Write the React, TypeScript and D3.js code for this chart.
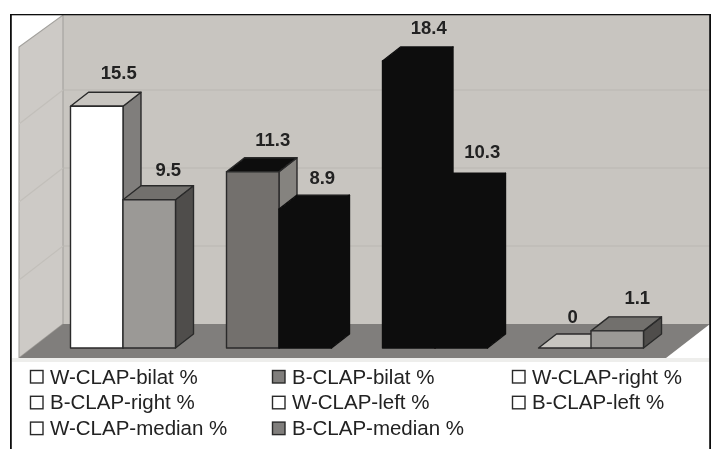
import * as d3 from 'd3';

const categories = ['bilat', 'right', 'left', 'median'];
const series = ['W-CLAP', 'B-CLAP'];
const wValues = [15.5, 11.3, 18.4, 0];
const bValues = [9.5, 8.9, 10.3, 1.1];
const yTicks = [0, 5, 10, 15, 20];

const legendLabels = [
  'W-CLAP-bilat %', 'B-CLAP-bilat %', 'W-CLAP-right %',
  'B-CLAP-right %', 'W-CLAP-left %', 'B-CLAP-left %',
  'W-CLAP-median %', 'B-CLAP-median %',
];
const legendFills = ['#fff', '#807e7b', '#fff', '#fff', '#fff', '#fff', '#fff', '#807e7b'];

// front, top, side colours for each bar
const wFaces = [
  ['#ffffff', '#c8c5c0', '#807e7b'],
  ['#73706d', '#111111', '#85837f'],
  ['#111111', '#111111', '#111111'],
  ['#ffffff', '#c8c5c0', '#807e7b'],
];
const bFaces = [
  ['#9b9996', '#72706d', '#4f4e4c'],
  ['#111111', '#111111', '#111111'],
  ['#111111', '#111111', '#111111'],
  ['#9b9996', '#72706d', '#4f4e4c'],
];
// small hand adjustments of the value labels [dx, dy]
const wNudge = [[2, 0], [0, 1], [0, 0], [-12, 2]];
const bNudge = [[-1, 3], [-3, 2], [1, -2], [0, 0]];

const width = 720;
const height = 449;
const depthX = 18;
const depthY = 14;
const wallX = 44;
const wallY = 34;
const baseY = 348;
const legendX = [30, 272, 512];

const x = d3.scaleBand<string>().domain(categories).range([70.5, 643.5]).paddingInner(0.327);
const xInner = d3.scaleBand<string>().domain(series).range([0, x.bandwidth()]);
const y = d3.scaleLinear().domain([0, 20]).range([baseY, baseY - 312]);

const backX0 = 63;
const backX1 = 710;
const backY = (v: number) => y(v) - 24;

const poly = (pts: number[][]) => d3.line()(pts as [number, number][]) + 'Z';

function Bar({ px, w, value, faces }: { px: number; w: number; value: number; faces: string[] }) {
  const top = y(value);
  const stroke = '#2a2a2a';
  return (
    <g stroke={faces[0] === '#111111' ? '#111111' : stroke} strokeWidth={1.4} strokeLinejoin="round">
      <path d={poly([[px + w, top], [px + w + depthX, top - depthY], [px + w + depthX, baseY - depthY], [px + w, baseY]])} fill={faces[2]} />
      <path d={poly([[px, top], [px + depthX, top - depthY], [px + w + depthX, top - depthY], [px + w, top]])} fill={faces[1]} />
      {value > 0 && <rect x={px} y={top} width={w} height={baseY - top} fill={faces[0]} />}
    </g>
  );
}

export default function App() {
  const w = xInner.bandwidth();
  const bars = categories.flatMap((c, i) => [
    { px: x(c)! + xInner('W-CLAP')!, value: wValues[i], faces: wFaces[i], nudge: wNudge[i] },
    { px: x(c)! + xInner('B-CLAP')!, value: bValues[i], faces: bFaces[i], nudge: bNudge[i] },
  ]);

  return (
    <svg width={width} height={height} style={{ position: 'absolute', left: 0, top: 0 }}>
      <defs>
        <filter id="soft" x="0" y="0" width="100%" height="100%">
          <feGaussianBlur stdDeviation="0.45" />
        </filter>
      </defs>
      <rect width={width} height={height} fill="#fff" />
      <g filter="url(#soft)">
        {/* walls */}
        <rect x={backX0} y={15} width={backX1 - backX0} height={backY(0) - 15} fill="#c8c5c0" />
        <path d={poly([[backX0 - wallX, 47], [backX0, 15], [backX0, backY(0)], [backX0 - wallX, backY(0) + wallY]])} fill="#cdcac6" stroke="#a3a19d" strokeWidth={1.1} />
        {yTicks.slice(1, 4).map(t => (
          <g key={t}>
            <line x1={backX0} x2={backX1} y1={backY(t)} y2={backY(t)} stroke="#bab7b2" strokeWidth={1.2} />
            <line x1={backX0} x2={backX0 - wallX} y1={backY(t)} y2={backY(t) + wallY} stroke="#c2bfba" strokeWidth={1.1} />
          </g>
        ))}
        {/* floor */}
        <path d={poly([[backX0 - wallX, backY(0) + wallY], [backX0, backY(0)], [backX1, backY(0)], [backX1 - wallX, backY(0) + wallY]])} fill="#807e7b" />
        <rect x={12} y={backY(0) + wallY} width={698} height={4} fill="#eeeeec" />

        {bars.map((b, i) => <Bar key={i} px={b.px} w={w} value={b.value} faces={b.faces} />)}

        {bars.map((b, i) => (
          <text
            key={i}
            x={b.px + w / 2 + depthX + 2 + b.nudge[0]}
            y={y(b.value) - depthY - 13 + b.nudge[1]}
            textAnchor="middle"
            fontFamily="Liberation Sans"
            fontWeight="bold"
            fontSize={18.5}
            fill="#222"
          >
            {b.value}
          </text>
        ))}

        {legendLabels.map((label, i) => {
          const col = i % 3;
          const row = Math.floor(i / 3);
          const lx = legendX[col];
          const ly = 376.5 + row * 25.8;
          return (
            <g key={label}>
              <rect x={lx + 0.5} y={ly - 6} width={12.5} height={12.5} fill={legendFills[i]} stroke="#2a2a2a" strokeWidth={1.4} />
              <text x={lx + 20} y={ly + 7} fontFamily="Liberation Sans" fontSize={20.5} fill="#222">{label}</text>
            </g>
          );
        })}

        {/* frame */}
        <rect x={10.5} y={14} width={700} height={height + 10} fill="none" stroke="#111" strokeWidth={2.6} />
      </g>
    </svg>
  );
}
